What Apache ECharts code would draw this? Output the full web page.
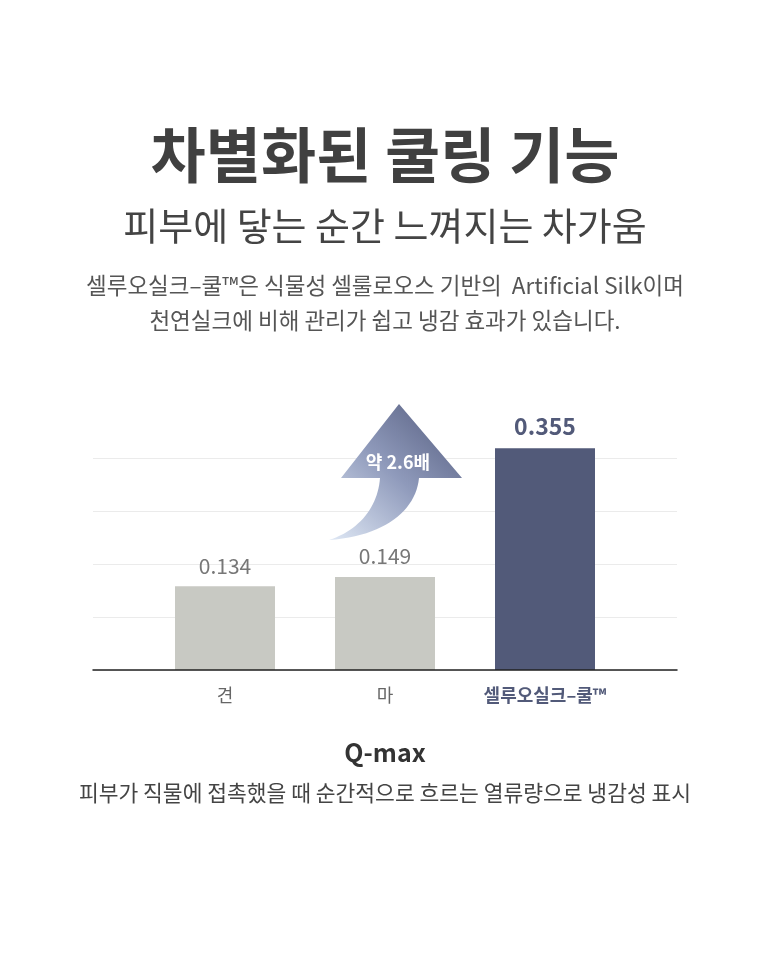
<!DOCTYPE html>
<html>
<head>
<meta charset="utf-8">
<script src="https://cdn.jsdelivr.net/npm/echarts@6/dist/echarts.min.js"></script>
<style>
html,body{margin:0;padding:0;background:#fff;}
#chart{width:770px;height:953px;}
</style>
</head>
<body>
<div id="chart"></div>
<script>
const categories = ['견', '마', '셀루오실크–쿨™'];
const values = [0.134, 0.149, 0.355];
const highlightIndex = 2;
const arrowText = '약 2.6배';
const titleText = '차별화된 쿨링 기능';
const subtitleText = '피부에 닿는 순간 느껴지는 차가움';
const descLines = ['셀루오실크–쿨™은 식물성 셀룰로오스 기반의  Artificial Silk이며', '천연실크에 비해 관리가 쉽고 냉감 효과가 있습니다.'];
const metricName = 'Q-max';
const metricDesc = '피부가 직물에 접촉했을 때 순간적으로 흐르는 열류량으로 냉감성 표시';

const F = '"Noto Sans CJK KR", "Noto Sans", sans-serif';
const NAVY = '#525a79';
const GRAY = '#c8c9c3';

const chart = echarts.init(document.getElementById('chart'), null, {renderer: 'canvas'});

function centeredTitle(text, cy, size, lh, color, weight) {
  return {
    text: text, left: 'center', top: cy - lh / 2, padding: 0,
    textStyle: {fontFamily: F, fontSize: size, lineHeight: lh, color: color, fontWeight: weight || 'normal'}
  };
}

// decorative curved arrow outline (cubic bezier sampled into polygon points)
function cubic(p0, p1, p2, p3, n) {
  const pts = [];
  for (let i = 0; i <= n; i++) {
    const t = i / n, u = 1 - t;
    pts.push([
      u*u*u*p0[0] + 3*u*u*t*p1[0] + 3*u*t*t*p2[0] + t*t*t*p3[0],
      u*u*u*p0[1] + 3*u*u*t*p1[1] + 3*u*t*t*p2[1] + t*t*t*p3[1]
    ]);
  }
  return pts;
}
const arrowPts = []
  .concat(cubic([329, 540], [360, 530], [378, 506], [380, 478], 24))
  .concat([[341, 478], [399, 404], [462, 478], [419, 478]])
  .concat(cubic([419, 478], [416, 510], [385, 536], [329, 540], 24).slice(1));

const option = {
  animation: false,
  backgroundColor: '#ffffff',
  title: [
    centeredTitle(titleText, 155, 60, 74, '#404040', 'bold'),
    centeredTitle(subtitleText, 226, 38, 48, '#444444'),
    centeredTitle(descLines[0], 285, 22.5, 30, '#555555'),
    centeredTitle(descLines[1], 320, 22.5, 30, '#555555'),
    centeredTitle(metricName, 752, 25, 32, '#333333', 'bold'),
    centeredTitle(metricDesc, 793, 21.5, 30, '#444444')
  ],
  grid: [
    {left: 93, right: 93, top: 458, bottom: 283},
    {left: 145, right: 145, top: 420, bottom: 283}
  ],
  xAxis: [
    {
      gridIndex: 0, type: 'value', min: 0, max: 1, z: 5,
      axisLine: {show: true, onZero: false, lineStyle: {color: '#222', width: 1.5}},
      axisTick: {show: false}, axisLabel: {show: false}, splitLine: {show: false}
    },
    {
      gridIndex: 1, type: 'category', data: categories,
      axisLine: {show: false}, axisTick: {show: false},
      axisLabel: {
        margin: 16,
        formatter: function (v, i) { return i === highlightIndex ? '{h|' + v + '}' : '{n|' + v + '}'; },
        rich: {
          n: {fontFamily: F, fontSize: 18, color: '#666666'},
          h: {fontFamily: F, fontSize: 18, fontWeight: 'bold', color: NAVY}
        }
      }
    }
  ],
  yAxis: [
    {
      gridIndex: 0, type: 'value', min: 0, max: 4, interval: 1,
      axisLine: {show: false}, axisTick: {show: false}, axisLabel: {show: false},
      splitLine: {show: true, lineStyle: {color: '#ebebeb', width: 1}}
    },
    {
      gridIndex: 1, type: 'value', min: 0, max: 0.4,
      axisLine: {show: false}, axisTick: {show: false}, axisLabel: {show: false},
      splitLine: {show: false}
    }
  ],
  series: [{
    type: 'bar', xAxisIndex: 1, yAxisIndex: 1, barWidth: 100, z: 2,
    data: values.map(function (v, i) {
      const hi = i === highlightIndex;
      return {
        value: v,
        itemStyle: {color: hi ? NAVY : GRAY},
        label: {
          show: true, position: 'top', distance: 10,
          formatter: function (p) { return p.value.toFixed(3); },
          fontFamily: F, fontSize: hi ? 23 : 21, fontWeight: hi ? 'bold' : 'normal',
          color: hi ? NAVY : '#777777'
        }
      };
    })
  }],
  graphic: [
    {
      type: 'polygon', z: 10,
      shape: {points: arrowPts},
      style: {
        fill: {
          type: 'linear', x: 0.95, y: 0, x2: 0, y2: 1,
          colorStops: [
            {offset: 0, color: '#545c7e'},
            {offset: 0.5, color: '#8f9abb'},
            {offset: 1, color: '#dfe8f5'}
          ]
        }
      }
    },
    {
      type: 'text', z: 11, x: 398, y: 462,
      style: {
        text: arrowText, fill: '#ffffff', font: 'bold 18px ' + F,
        align: 'center', verticalAlign: 'middle'
      }
    }
  ]
};
chart.setOption(option);
</script>
</body>
</html>
